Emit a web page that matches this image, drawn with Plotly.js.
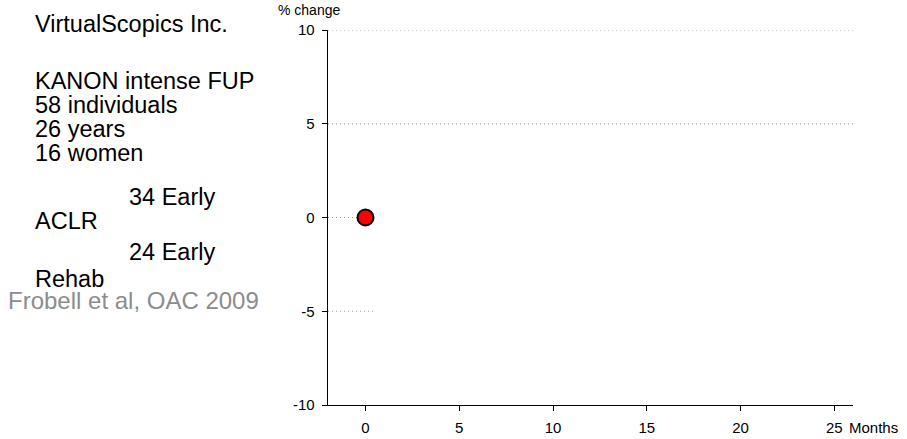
<!DOCTYPE html>
<html>
<head>
<meta charset="utf-8">
<script src="https://cdn.plot.ly/plotly-3.0.1.min.js"></script>
<style>html,body{margin:0;padding:0;background:#fff;}#chart{width:907px;height:439px;}</style>
</head>
<body>
<div id="chart"></div>
<script>
// Data
const months = [0];
const pctChange = [0];
const xTickVals = [0, 5, 10, 15, 20, 25];
const yTickVals = [-10, -5, 0, 5, 10];
const infoLines = ["VirtualScopics Inc.", "KANON intense FUP", "58 individuals", "26 years", "16 women", "34 Early", "ACLR", "24 Early", "Rehab"];
const sourceText = "Frobell et al, OAC 2009";
const xUnit = "Months";
const yUnit = "% change";

// Layout geometry (pixels)
const L = 328, R = 853, T = 30, B = 405, W = 907, H = 439;
const pw = R - L, ph = B - T;
const px = x => (x - L) / pw;
const py = y => (B - y) / ph;

const font = "Liberation Sans, Arial, Helvetica, sans-serif";
const infoPos = [[33, 24], [33, 81], [33, 105], [33, 129], [33, 153], [127, 197], [33, 221], [127, 252], [33, 279]];

const annotations = infoLines.map((t, i) => ({
  text: t, xref: 'paper', yref: 'paper', x: px(infoPos[i][0]), y: py(infoPos[i][1]),
  xanchor: 'left', yanchor: 'middle', showarrow: false,
  font: {family: font, size: 23.5, color: '#000'}
}));
annotations.push({
  text: sourceText, xref: 'paper', yref: 'paper', x: px(6), y: py(300),
  xanchor: 'left', yanchor: 'middle', showarrow: false,
  font: {family: font, size: 24, color: '#8c8c8c'}
});
annotations.push({
  text: yUnit, xref: 'paper', yref: 'paper', x: px(309), y: py(10),
  xanchor: 'center', yanchor: 'middle', showarrow: false,
  font: {family: font, size: 14, color: '#000'}
});
annotations.push({
  text: xUnit, xref: 'paper', yref: 'paper', x: px(847), y: py(427),
  xanchor: 'left', yanchor: 'middle', showarrow: false,
  font: {family: font, size: 15, color: '#000'}
});

const grid = {color: '#9a9a9a', width: 1, dash: '1px,3px'};
const shapes = [
  {type: 'line', xref: 'paper', yref: 'y', x0: 0, x1: 1, y0: 10, y1: 10, line: grid, layer: 'below'},
  {type: 'line', xref: 'paper', yref: 'y', x0: 0, x1: 1, y0: 5, y1: 5, line: grid, layer: 'below'},
  {type: 'line', xref: 'paper', yref: 'y', x0: 0, x1: px(373), y0: 0, y1: 0, line: grid, layer: 'below'},
  {type: 'line', xref: 'paper', yref: 'y', x0: 0, x1: px(373), y0: -5, y1: -5, line: grid, layer: 'below'}
];

const trace = {
  x: months, y: pctChange, type: 'scatter', mode: 'markers',
  marker: {symbol: 'circle', size: 16, color: '#ff0000', line: {color: '#000', width: 2}},
  cliponaxis: false, hoverinfo: 'skip'
};

const layout = {
  width: W, height: H,
  margin: {l: L, r: W - R, t: T, b: H - B, pad: 0},
  paper_bgcolor: '#fff', plot_bgcolor: '#fff',
  showlegend: false,
  font: {family: font, size: 15, color: '#000'},
  xaxis: {
    range: [-2, 26], tickvals: xTickVals, ticktext: xTickVals.map(String),
    showline: true, linecolor: '#000', linewidth: 1.3, ticks: 'outside', ticklen: 5, tickwidth: 1, tickcolor: '#000',
    showgrid: false, zeroline: false, ticklabelstandoff: 4,
    tickfont: {family: font, size: 15, color: '#000'}
  },
  yaxis: {
    range: [-10, 10], tickvals: yTickVals, ticktext: yTickVals.map(String),
    showline: true, linecolor: '#000', linewidth: 1.3, ticks: 'outside', ticklen: 5, tickwidth: 1, tickcolor: '#000',
    showgrid: false, zeroline: false, ticklabelstandoff: 4,
    tickfont: {family: font, size: 15, color: '#000'}
  },
  shapes: shapes,
  annotations: annotations
};

Plotly.newPlot('chart', [trace], layout, {displayModeBar: false, staticPlot: true});
</script>
</body>
</html>
